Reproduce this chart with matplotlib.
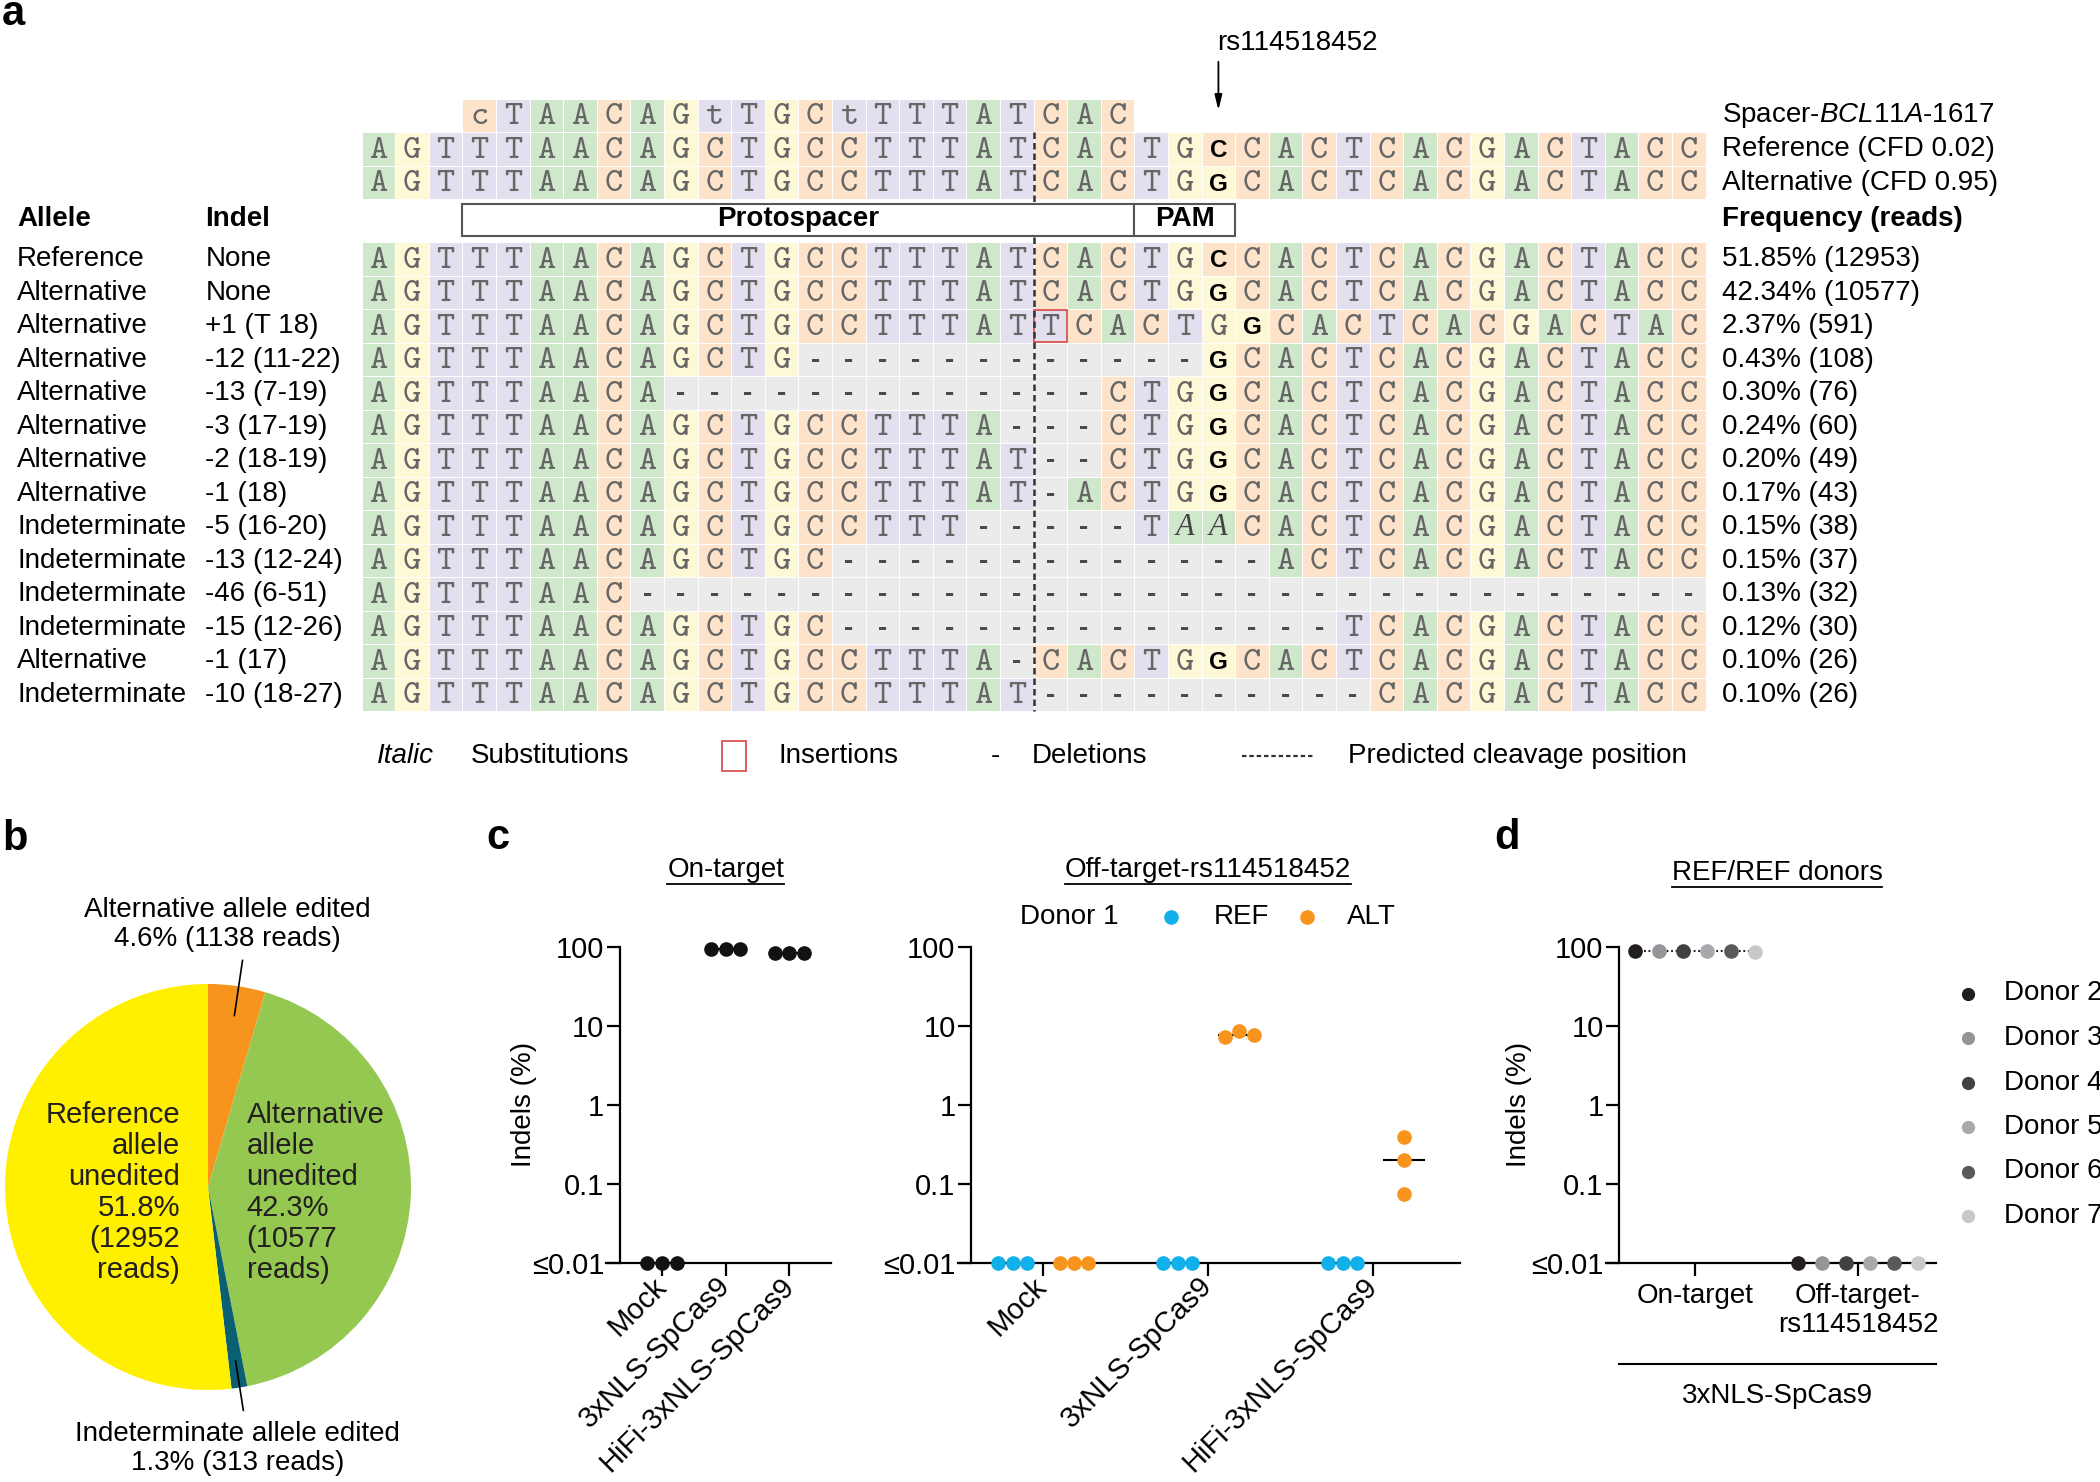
import matplotlib
matplotlib.use("Agg")
import matplotlib.pyplot as plt
import numpy as np
from matplotlib.patches import Rectangle
from matplotlib.lines import Line2D
from matplotlib.ticker import FixedLocator, NullLocator

plt.rcParams['font.family'] = ['Liberation Sans', 'DejaVu Sans']
plt.rcParams['mathtext.fontset'] = 'custom'
plt.rcParams['mathtext.rm'] = 'Liberation Sans'
plt.rcParams['mathtext.it'] = 'Liberation Sans:italic'

# ---------------- panel a : allele table
spacer_seq = "cTAACAGtTGCtTTTATCAC"
spacer_start = 3
reference_seq = "AGTTTAACAGCTGCCTTTATCACTGCCACTCACGACTACC"
alternative_seq = "AGTTTAACAGCTGCCTTTATCACTGGCACTCACGACTACC"
top_labels = [r"Spacer-$\mathit{BCL11A}$-1617", "Reference (CFD 0.02)", "Alternative (CFD 0.95)"]
snp_pos = 25
cut_pos = 20

allele_names = ["Reference", "Alternative", "Alternative", "Alternative", "Alternative",
                "Alternative", "Alternative", "Alternative", "Indeterminate", "Indeterminate",
                "Indeterminate", "Indeterminate", "Alternative", "Indeterminate"]
indel_names = ["None", "None", "+1 (T 18)", "-12 (11-22)", "-13 (7-19)", "-3 (17-19)",
               "-2 (18-19)", "-1 (18)", "-5 (16-20)", "-13 (12-24)", "-46 (6-51)",
               "-15 (12-26)", "-1 (17)", "-10 (18-27)"]
allele_seqs = [
    "AGTTTAACAGCTGCCTTTATCACTGCCACTCACGACTACC",
    "AGTTTAACAGCTGCCTTTATCACTGGCACTCACGACTACC",
    "AGTTTAACAGCTGCCTTTATTCACTGGCACTCACGACTAC",
    "AGTTTAACAGCTG------------GCACTCACGACTACC",
    "AGTTTAACA-------------CTGGCACTCACGACTACC",
    "AGTTTAACAGCTGCCTTTA---CTGGCACTCACGACTACC",
    "AGTTTAACAGCTGCCTTTAT--CTGGCACTCACGACTACC",
    "AGTTTAACAGCTGCCTTTAT-ACTGGCACTCACGACTACC",
    "AGTTTAACAGCTGCCTTT-----TAACACTCACGACTACC",
    "AGTTTAACAGCTGC-------------ACTCACGACTACC",
    "AGTTTAAC--------------------------------",
    "AGTTTAACAGCTGC---------------TCACGACTACC",
    "AGTTTAACAGCTGCCTTTA-CACTGGCACTCACGACTACC",
    "AGTTTAACAGCTGCCTTTAT----------CACGACTACC",
]
bold_pos = [25, 25, 26, 25, 25, 25, 25, 25, None, None, None, None, 25, None]
italic_pos = {8: [24, 25]}
insert_pos = {2: 20}
freq_pct = [51.85, 42.34, 2.37, 0.43, 0.30, 0.24, 0.20, 0.17, 0.15, 0.15, 0.13, 0.12, 0.10, 0.10]
freq_reads = [12953, 10577, 591, 108, 76, 60, 49, 43, 38, 37, 32, 30, 26, 26]

# ---------------- panel b : pie
pie_names = ["Alternative allele edited", "Alternative allele unedited",
             "Indeterminate allele edited", "Reference allele unedited"]
pie_reads = [1138, 10577, 313, 12952]
pie_pct = [4.6, 42.3, 1.3, 51.8]
pie_colors = ["#f7941d", "#94c851", "#0b5f72", "#fff000"]

# ---------------- panel c : donor 1
groups = ["Mock", "3xNLS-SpCas9", "HiFi-3xNLS-SpCas9"]
on_target = [[0.01, 0.01, 0.01], [93, 93, 93], [83, 83, 83]]
off_ref = [[0.01, 0.01, 0.01], [0.01, 0.01, 0.01], [0.01, 0.01, 0.01]]
off_alt = [[0.01, 0.01, 0.01], [7.2, 8.5, 7.7], [0.39, 0.20, 0.075]]

# ---------------- panel d : REF/REF donors
d_sites = ["On-target", "Off-target-\nrs114518452"]
d_donors = ["Donor 2", "Donor 3", "Donor 4", "Donor 5", "Donor 6", "Donor 7"]
d_on = [87, 87, 88, 87, 87, 86]
d_off = [0.01, 0.01, 0.01, 0.01, 0.01, 0.01]
d_colors = ["#231f20", "#939598", "#414042", "#a7a9ac", "#58595b", "#c7c8ca"]

y_ticks = [0.01, 0.1, 1, 10, 100]
y_tick_labels = ["≤0.01", "0.1", "1", "10", "100"]

W, H = 2100.0, 1482.0
fig = plt.figure(figsize=(21, 14.82), dpi=100)


def fp(x, y):
    return x / W, 1 - y / H


# ================= panel a =================
CW, CH = 33.6, 33.5
X0, Y0 = 361.6, 242.3
axa = fig.add_axes([0, 0, 1, 1])
axa.set_xlim(-X0 / CW, (W - X0) / CW)
axa.set_ylim((H - Y0) / CH, -Y0 / CH)
axa.axis("off")

base_bg = {"A": "#cfe8cc", "C": "#fde3c9", "G": "#fdf9d6", "T": "#e4dfee", "-": "#ebebec"}
seq_font = dict(family="cmtt10", fontsize=25, color="#666666")


def draw_row(seq, top, start=0, bold=None, italic=(), ins=None):
    for k, ch in enumerate(seq):
        i = start + k
        axa.add_patch(Rectangle((i, top), 1, 1, facecolor=base_bg[ch.upper()],
                                edgecolor="white", lw=0.7))
        if ch == "-":
            axa.text(i + 0.5, top + 0.5, "-", ha="center", va="center", fontsize=18,
                     family="Liberation Mono", fontweight="bold", color="#4a4a4a")
        elif i == bold:
            axa.text(i + 0.5, top + 0.74, ch, ha="center", va="baseline",
                     fontsize=17.5, fontweight="bold", color="black")
        elif i in italic:
            axa.text(i + 0.5, top + 0.74, ch, ha="center", va="baseline", fontsize=22,
                     family="Liberation Serif", style="italic", color="#444444")
        else:
            axa.text(i + 0.5, top + 0.76, ch, ha="center", va="baseline", **seq_font)
    if ins is not None:
        axa.add_patch(Rectangle((ins + 0.02, top + 0.03), 0.96, 0.94, fill=False,
                                edgecolor="#d9534f", lw=1.3, zorder=4))


LAB_X, INDEL_X, FREQ_X = -10.25, -4.65, 40.5
top_rows = [-4.28, -3.28, -2.28]
draw_row(spacer_seq, top_rows[0], start=spacer_start)
draw_row(reference_seq, top_rows[1], bold=snp_pos)
draw_row(alternative_seq, top_rows[2], bold=snp_pos)
for lab, yt in zip(top_labels, top_rows):
    axa.text(FREQ_X, yt + 0.5, lab, ha="left", va="center", fontsize=20)

for r, seq in enumerate(allele_seqs):
    draw_row(seq, r, bold=bold_pos[r], italic=italic_pos.get(r, ()), ins=insert_pos.get(r))
    axa.text(LAB_X, r + 0.5, allele_names[r], ha="left", va="center", fontsize=20)
    axa.text(INDEL_X, r + 0.5, indel_names[r], ha="left", va="center", fontsize=20)
    axa.text(FREQ_X, r + 0.5, f"{freq_pct[r]:.2f}% ({freq_reads[r]})", ha="left",
             va="center", fontsize=20)

head_y = -0.69
axa.text(LAB_X, head_y, "Allele", ha="left", va="center", fontsize=20, fontweight="bold")
axa.text(INDEL_X, head_y, "Indel", ha="left", va="center", fontsize=20, fontweight="bold")
axa.text(FREQ_X, head_y, "Frequency (reads)", ha="left", va="center", fontsize=20,
         fontweight="bold")
axa.add_patch(Rectangle((spacer_start, -1.14), len(spacer_seq), 0.95, facecolor="white",
                        edgecolor="#555555", lw=1.5, zorder=6))
axa.add_patch(Rectangle((spacer_start + len(spacer_seq), -1.14), 3, 0.95, facecolor="white",
                        edgecolor="#555555", lw=1.5, zorder=6))
axa.text(spacer_start + len(spacer_seq) / 2, head_y, "Protospacer", ha="center",
         va="center", fontsize=20, fontweight="bold", zorder=7)
axa.text(spacer_start + len(spacer_seq) + 1.5, head_y, "PAM", ha="center", va="center",
         fontsize=20, fontweight="bold", zorder=7)

axa.plot([cut_pos, cut_pos], [top_rows[1], len(allele_seqs)], color="#333333", lw=1.8,
         linestyle=(0, (2.6, 1.6)), zorder=5)

axa.annotate("", xy=(snp_pos + 0.5, -3.86), xytext=(snp_pos + 0.5, -5.47),
             arrowprops=dict(arrowstyle="-|>,head_length=0.9,head_width=0.22",
                             color="black", lw=1.3))
axa.text(snp_pos + 0.47, -5.95, "rs114518452", ha="left", va="center", fontsize=20)

# legend of panel a
leg_y = 15.33
axa.text(0.45, leg_y, "Italic", ha="left", va="center", fontsize=20, style="italic")
axa.text(3.25, leg_y, "Substitutions", ha="left", va="center", fontsize=20)
axa.add_patch(Rectangle((10.72, leg_y - 0.45), 0.72, 0.9, fill=False, edgecolor="#d9534f",
                        lw=1.3))
axa.text(12.4, leg_y, "Insertions", ha="left", va="center", fontsize=20)
axa.text(18.85, leg_y, "-", ha="center", va="center", fontsize=20)
axa.text(19.95, leg_y, "Deletions", ha="left", va="center", fontsize=20)
axa.plot([26.2, 28.35], [leg_y, leg_y], color="#333333", lw=1.6, linestyle=(0, (2.0, 1.3)))
axa.text(29.35, leg_y, "Predicted cleavage position", ha="left", va="center", fontsize=20)

# ================= panel b =================
PC, PR = (208.0, 1187.0), 203.0
axb = fig.add_axes([(PC[0] - PR) / W, 1 - (PC[1] + PR) / H, 2 * PR / W, 2 * PR / H])
axb.pie(pie_reads, colors=pie_colors, startangle=90, counterclock=False,
        wedgeprops=dict(linewidth=0))
axb.set_xlim(-1, 1)
axb.set_ylim(-1, 1)
axb.set_aspect("equal")
axb.axis("off")

axb.text(0.097, 1.295, f"{pie_names[0]}\n{pie_pct[0]}% ({pie_reads[0]} reads)",
         ha="center", va="center", fontsize=20, linespacing=1.15)
axb.plot([0.17, 0.13], [1.116, 0.845], color="black", lw=1.2, clip_on=False)
axb.text(0.145, -1.29, f"{pie_names[2]}\n{pie_pct[2]}% ({pie_reads[2]} reads)",
         ha="center", va="center", fontsize=20, linespacing=1.15)
axb.plot([0.136, 0.174], [-0.857, -1.10], color="black", lw=1.2, clip_on=False)
ref_words = pie_names[3].split()
alt_words = pie_names[1].split()
axb.text(-0.138, -0.027, "\n".join(ref_words + [f"{pie_pct[3]}%", f"({pie_reads[3]}", "reads)"]),
         ha="right", va="center", fontsize=21, linespacing=1.14, color="#231f20")
axb.text(0.19, -0.027, "\n".join(alt_words + [f"{pie_pct[1]}%", f"({pie_reads[1]}", "reads)"]),
         ha="left", va="center", fontsize=21, linespacing=1.14, color="#231f20")


# ================= panels c and d =================
def log_axes(left_px, right_px, spine_px, tick0_px, step_px):
    top_px, bot_px = 946.5, 1263.0
    ax = fig.add_axes([left_px / W, 1 - bot_px / H, (right_px - left_px) / W,
                       (bot_px - top_px) / H])
    ax.set_yscale("log")
    ax.set_ylim(0.01, 100)
    ax.set_xlim((left_px - tick0_px) / step_px, (right_px - tick0_px) / step_px)
    ax.spines["left"].set_position(("data", (spine_px - tick0_px) / step_px))
    ax.spines[["top", "right"]].set_visible(False)
    for s in ("left", "bottom"):
        ax.spines[s].set_linewidth(1.6)
    ax.yaxis.set_major_locator(FixedLocator(y_ticks))
    ax.yaxis.set_minor_locator(NullLocator())
    ax.set_yticklabels(y_tick_labels)
    ax.tick_params(axis="both", length=9.5, width=1.6, labelsize=21, pad=1.5)
    ax.patch.set_visible(False)
    ax.set_ylabel("Indels (%)", fontsize=20)
    return ax


MS = 9.5
REF_C, ALT_C = "#12b0ea", "#f7941d"

# c : on-target
axc1 = log_axes(606, 831, 619.5, 662, 63.7)
spread3 = np.array([-0.23, 0, 0.23])
for g, vals in enumerate(on_target):
    med = np.median(vals)
    axc1.plot([g - 0.25, g + 0.25], [med, med], color="black", lw=1.5, clip_on=False, zorder=2)
    axc1.plot(g + spread3, vals, "o", color="#111111", ms=MS, clip_on=False, zorder=3)
axc1.set_xticks(range(len(groups)))
axc1.set_xticklabels(groups, rotation=45, ha="right", va="center", rotation_mode="anchor",
                     fontsize=21)
axc1.tick_params(axis="x", pad=4)
axc1.yaxis.set_label_coords(-0.307, 0.5)

# c : off-target
axc2 = log_axes(958, 1459.5, 970.8, 1042.6, 165.05)
ref_x = [-0.268, -0.181, -0.094]
alt_x = [[0.104, 0.191, 0.278], [0.104, 0.191, 0.278], [0.191, 0.191, 0.191]]
for g in range(len(groups)):
    for xs, vals, col in ((np.array(ref_x), off_ref[g], REF_C),
                          (np.array(alt_x[g]), off_alt[g], ALT_C)):
        med = np.median(vals)
        cx = xs.mean()
        axc2.plot([g + cx - 0.12, g + cx + 0.12], [med, med], color="black", lw=1.5,
                  clip_on=False, zorder=2)
        axc2.plot(g + xs, vals, "o", color=col, ms=MS, clip_on=False, zorder=3)
axc2.set_xticks(range(len(groups)))
axc2.set_xticklabels(groups, rotation=45, ha="right", va="center", rotation_mode="anchor",
                     fontsize=21)
axc2.tick_params(axis="x", pad=4)
axc2.set_ylabel("")

# legend of c
fig.text(*fp(1019.6, 916.5), "Donor 1", ha="left", va="center", fontsize=20)
fig.add_artist(Line2D([1170.6 / W], [1 - 916.5 / H], marker="o", ms=MS, color=REF_C,
                      linestyle="none", transform=fig.transFigure))
fig.text(*fp(1213.6, 916.5), "REF", ha="left", va="center", fontsize=20)
fig.add_artist(Line2D([1306.6 / W], [1 - 916.5 / H], marker="o", ms=MS, color=ALT_C,
                      linestyle="none", transform=fig.transFigure))
fig.text(*fp(1346.8, 916.5), "ALT", ha="left", va="center", fontsize=20)

# d
axd = log_axes(1605.9, 1935.6, 1618.8, 1695, 163)
d_spread = np.array([-0.37, -0.22, -0.075, 0.075, 0.22, 0.37])
for s, vals in enumerate([d_on, d_off]):
    med = np.median(vals)
    axd.plot(s + d_spread[[0, -1]], [med, med], color="black", lw=1.3,
             linestyle=(0, (1, 1.5)) if s == 0 else "-", clip_on=False, zorder=2)
    for k, v in enumerate(vals):
        axd.plot(s + d_spread[k], v, "o", color=d_colors[k], ms=MS, clip_on=False, zorder=3)
axd.set_xticks(range(len(d_sites)))
axd.set_xticklabels(d_sites, fontsize=20, linespacing=1.15)
axd.tick_params(axis="x", pad=5)
axd.yaxis.set_label_coords(-0.224, 0.5)
fig.add_artist(Line2D([1618.8 / W, 1935.6 / W], [1 - 1364 / H] * 2, color="black", lw=1.5,
                      transform=fig.transFigure))
fig.text(*fp(1777, 1396), "3xNLS-SpCas9", ha="center", va="center", fontsize=20)
for k, name in enumerate(d_donors):
    yy = 993.5 + 44.5 * k
    fig.add_artist(Line2D([1967.7 / W], [1 - yy / H], marker="o", ms=8.5, color=d_colors[k],
                          linestyle="none", transform=fig.transFigure))
    fig.text(*fp(2004.4, yy), name, ha="left", va="center", fontsize=20)

# titles (underlined)
titles = [fig.text(*fp(725.7, 869.6), "On-target", ha="center", va="center", fontsize=20),
          fig.text(*fp(1207.9, 869.6), "Off-target-rs114518452", ha="center", va="center",
                   fontsize=20),
          fig.text(*fp(1777, 873), "REF/REF donors", ha="center", va="center", fontsize=20)]

# panel letters
for lab, x, y in (("a", 2, 25), ("b", 2, 850), ("c", 486, 849), ("d", 1494, 849)):
    fig.text(*fp(x, y), lab, ha="left", va="baseline", fontsize=30, fontweight="bold")

fig.canvas.draw()
for t in titles:
    bb = t.get_window_extent()
    fig.add_artist(Line2D([bb.x0 / W, bb.x1 / W], [(bb.y0 - 1) / H] * 2, color="black",
                          lw=1.3, transform=fig.transFigure))

fig.savefig("out.png", dpi=100)
